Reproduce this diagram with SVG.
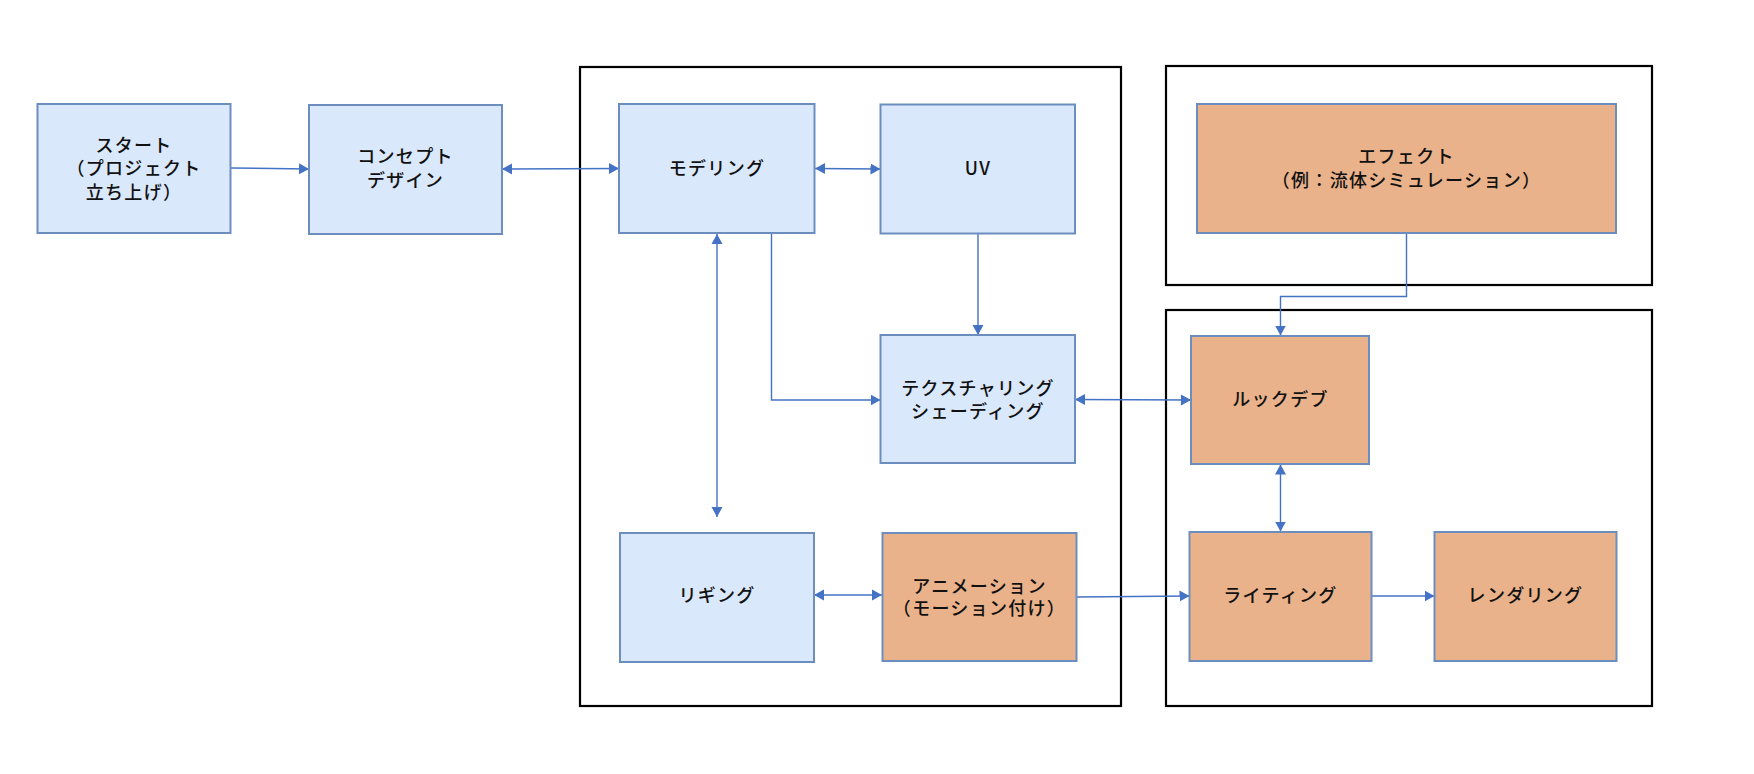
<svg xmlns="http://www.w3.org/2000/svg" width="1754" height="774" viewBox="0 0 1754 774">
<style>
.bg{fill:#ffffff}
.cont{fill:none;stroke:#000000;stroke-width:2.2}
.blue{fill:#dae8fc;stroke:#6c8ebf;stroke-width:2}
.orange{fill:#e9b28b;stroke:#6c8ebf;stroke-width:2}
.lbl{font-family:"Noto Sans CJK JP","Noto Sans",sans-serif;font-size:18px;font-weight:500;fill:#111111;text-anchor:middle;letter-spacing:1.3px}
.conn path{fill:none;stroke:#4472c4;stroke-width:1.4}
</style>
<defs>
<marker id="arr" markerUnits="userSpaceOnUse" markerWidth="11" markerHeight="12" refX="10" refY="5.5" orient="auto-start-reverse" viewBox="0 0 11 11">
<path d="M0,0 L10,5.5 L0,11 z" fill="#4472c4"/>
</marker>
</defs>
<rect class="bg" x="0" y="0" width="1754" height="774"/>
<g id="containers">
<rect class="cont" x="580" y="67" width="541" height="639"/>
<rect class="cont" x="1166" y="66" width="486" height="219"/>
<rect class="cont" x="1166" y="310" width="486" height="396"/>
</g>
<g class="conn" id="connectors">
<path d="M231,168 L309,169" marker-end="url(#arr)"/>
<path d="M502,169 L619,168.5" marker-start="url(#arr)" marker-end="url(#arr)"/>
<path d="M815,168.5 L880.5,169" marker-start="url(#arr)" marker-end="url(#arr)"/>
<path d="M717,234 L717,517" marker-start="url(#arr)" marker-end="url(#arr)"/>
<path d="M771.5,233 L771.5,400 L880.5,400" marker-end="url(#arr)"/>
<path d="M978,233 L978,335" marker-end="url(#arr)"/>
<path d="M1075,399.5 L1191,400" marker-start="url(#arr)" marker-end="url(#arr)"/>
<path d="M1406.5,233 L1406.5,296.5 L1280.5,296.5 L1280.5,335.5" marker-end="url(#arr)"/>
<path d="M1280.5,464.5 L1280.5,531.5" marker-start="url(#arr)" marker-end="url(#arr)"/>
<path d="M814,595 L882,595" marker-start="url(#arr)" marker-end="url(#arr)"/>
<path d="M1076.5,597 L1189.5,596" marker-end="url(#arr)"/>
<path d="M1371.5,596 L1434.5,596" marker-end="url(#arr)"/>
</g>
<g id="start">
<rect class="blue" x="37.5" y="104" width="193" height="129"/>
<text class="lbl" x="134" y="152">スタート</text>
<text class="lbl" x="134" y="175">（プロジェクト</text>
<text class="lbl" x="134" y="198.5">立ち上げ）</text>
</g>
<g id="concept">
<rect class="blue" x="309" y="105" width="193" height="129"/>
<text class="lbl" x="405.5" y="163">コンセプト</text>
<text class="lbl" x="405.5" y="186.5">デザイン</text>
</g>
<g id="modeling">
<rect class="blue" x="619" y="104" width="195.5" height="129"/>
<text class="lbl" x="717" y="175">モデリング</text>
</g>
<g id="uv">
<rect class="blue" x="880.5" y="104.5" width="194.5" height="129"/>
<text class="lbl" x="978" y="175">UV</text>
</g>
<g id="texturing">
<rect class="blue" x="880.5" y="335" width="194.5" height="128"/>
<text class="lbl" x="978" y="394.5">テクスチャリング</text>
<text class="lbl" x="978" y="418">シェーディング</text>
</g>
<g id="rigging">
<rect class="blue" x="620" y="533" width="194" height="129"/>
<text class="lbl" x="717" y="602">リギング</text>
</g>
<g id="animation">
<rect class="orange" x="882.5" y="533" width="194" height="128"/>
<text class="lbl" x="979.5" y="592.5">アニメーション</text>
<text class="lbl" x="979.5" y="615">（モーション付け）</text>
</g>
<g id="effect">
<rect class="orange" x="1197" y="104" width="419" height="129"/>
<text class="lbl" x="1406.5" y="163">エフェクト</text>
<text class="lbl" x="1406.5" y="186.5">（例：流体シミュレーション）</text>
</g>
<g id="lookdev">
<rect class="orange" x="1191" y="336" width="178" height="128"/>
<text class="lbl" x="1280.5" y="406">ルックデブ</text>
</g>
<g id="lighting">
<rect class="orange" x="1189.5" y="532" width="182" height="129"/>
<text class="lbl" x="1280.5" y="602">ライティング</text>
</g>
<g id="rendering">
<rect class="orange" x="1434.5" y="532" width="182" height="129"/>
<text class="lbl" x="1525.5" y="602">レンダリング</text>
</g>
</svg>
